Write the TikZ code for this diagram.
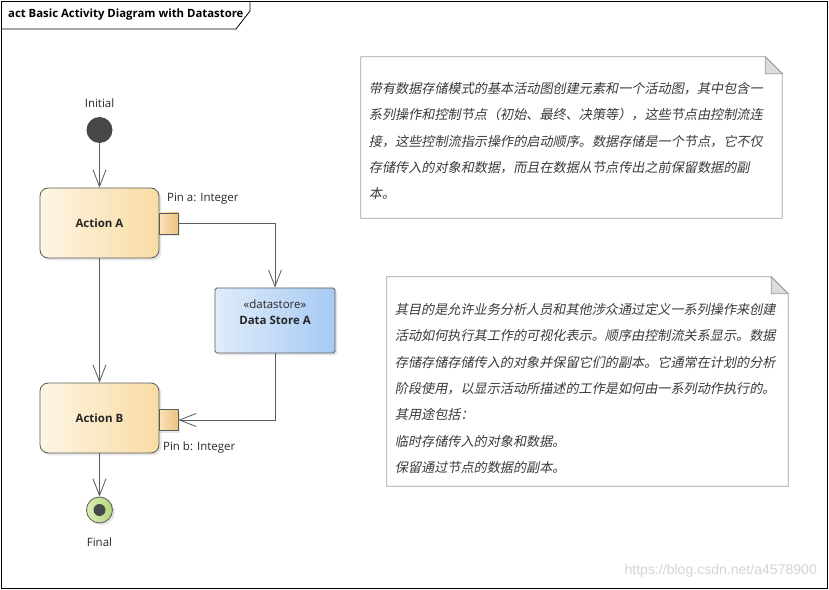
\documentclass[tikz,border=0pt]{standalone}
\usepackage{fontspec}
\setmainfont{Open Sans}
\newfontfamily\cjkfont[FakeSlant=0.2]{Noto Sans CJK SC}
\newfontfamily\wmfont{Liberation Sans}
\usetikzlibrary{arrows.meta,shadows,calc}
\definecolor{edgegray}{HTML}{5C5C5C}
\definecolor{actleft}{HTML}{FEF5E4}
\definecolor{actright}{HTML}{F8DCA4}
\definecolor{pinleft}{HTML}{F9E3BE}
\definecolor{pinright}{HTML}{EFC27E}
\definecolor{dsleft}{HTML}{DFECFA}
\definecolor{dsright}{HTML}{A7CAF3}
\definecolor{finleft}{HTML}{DCEDB6}
\definecolor{finright}{HTML}{B3D47A}
\definecolor{dotgray}{HTML}{474747}
\definecolor{notetext}{HTML}{3A3A3A}
\definecolor{noteborder}{HTML}{A0A0A0}
\definecolor{foldgray}{HTML}{DCDCDC}
\definecolor{wmgray}{HTML}{D4D4D4}

\begin{document}
\begin{tikzpicture}[x=0.03cm, y=-0.03cm, font=\fontsize{9.8}{11}\selectfont, text=black!85,
    flow/.style={draw=edgegray, line width=0.7pt, -{Straight Barb[length=5mm, width=3.9mm]}},
    shade/.style={drop shadow={shadow xshift=2pt, shadow yshift=-2pt, opacity=0.2}},
    action/.style={shade, draw=edgegray, line width=0.7pt, rounded corners=7pt, left color=actleft, right color=actright, minimum width=3.57cm, minimum height=2.1cm, font=\fontsize{9.8}{11}\selectfont\bfseries},
    pin/.style={shade, draw=edgegray, line width=0.7pt, left color=pinleft, right color=pinright, minimum width=0.57cm, minimum height=0.63cm, inner sep=0pt},
    datastore/.style={shade, draw=edgegray, line width=0.7pt, rounded corners=1.5pt, left color=dsleft, right color=dsright, minimum width=3.6cm, minimum height=1.95cm, align=center},
    notebox/.style={fill=white, inner sep=0pt},
    notetext/.style={inner xsep=0.24cm, inner ysep=0pt, align=left, text=notetext, font=\cjkfont\fontsize{11.2}{22.6}\selectfont},
    noteedge/.style={draw=noteborder, line width=0.7pt}]
    \useasboundingbox (0,0) rectangle (829,590);
    \draw[line width=0.8pt] (1,1) rectangle (827,588);
    \draw[line width=0.7pt] (1,29) -- (236,29) -- (250,11) -- (250,1);
    \node[anchor=west, font=\fontsize{9.7}{11}\selectfont\bfseries, text=black] (title) at (4,15) {act Basic Activity Diagram with Datastore};

    \node[circle, fill=dotgray, minimum size=0.78cm] (init) at (99.5,130) {};
    \node (initLbl) at (99.5,103) {Initial};
    \node[action] (actA) at (99.5,223) {Action A};
    \node[pin] (pinA) at (168.5,223.5) {};
    \node[anchor=west] (pinALbl) at (163,199) {Pin a: Integer};
    \node[datastore] (ds) at (275,320.5) {«datastore»\\[3pt]\textbf{Data Store A}\\[3pt]~};
    \node[action] (actB) at (99.5,418) {Action B};
    \node[pin] (pinB) at (168.5,420) {};
    \node[anchor=west] (pinBLbl) at (159,448) {Pin b: Integer};
    \node[circle, draw=edgegray, line width=0.7pt, left color=finleft, right color=finright, minimum size=0.78cm, shade] (final) at (99.5,510) {};
    \node[circle, fill=dotgray, minimum size=0.36cm, inner sep=0pt] (finalDot) at (final) {};
    \node (finalLbl) at (99.5,542) {Final};

    \draw[flow] (init) -- (actA);
    \draw[flow] (actA) -- (actB);
    \draw[flow] (actB) -- (final);
    \draw[flow] (pinA.east) -| (ds.north);
    \draw[flow] (ds.south) |- (pinB.east);

    \node[notebox, minimum width=12.63cm, minimum height=4.83cm] (noteA) at (571.5,137.5) {};
    \draw[noteedge] (noteA.south west) -- (noteA.north west) -- ($(noteA.north east)+(-17,0)$) -- ($(noteA.north east)+(0,17)$) -- (noteA.south east) -- cycle;
    \filldraw[noteedge, fill=foldgray] ($(noteA.north east)+(-17,0)$) -- ($(noteA.north east)+(0,17)$) -- ($(noteA.north east)+(-17,17)$) -- cycle;
    \node[notetext, text width=12.15cm] (noteAText) at ($(noteA.center)+(0,3.5)$) {带有数据存储模式的基本活动图创建元素和一个活动图，其中包含一\\系列操作和控制节点（初始、最终、决策等），这些节点由控制流连\\接，这些控制流指示操作的启动顺序。数据存储是一个节点，它不仅\\存储传入的对象和数据，而且在数据从节点传出之前保留数据的副\\本。};

    \node[notebox, minimum width=12.03cm, minimum height=6.27cm] (noteB) at (587.5,381.5) {};
    \draw[noteedge] (noteB.south west) -- (noteB.north west) -- ($(noteB.north east)+(-17,0)$) -- ($(noteB.north east)+(0,17)$) -- (noteB.south east) -- cycle;
    \filldraw[noteedge, fill=foldgray] ($(noteB.north east)+(-17,0)$) -- ($(noteB.north east)+(0,17)$) -- ($(noteB.north east)+(-17,17)$) -- cycle;
    \node[notetext, text width=11.55cm] (noteBText) at ($(noteB.center)+(0,7)$) {其目的是允许业务分析人员和其他涉众通过定义一系列操作来创建\\活动如何执行其工作的可视化表示。顺序由控制流关系显示。数据\\存储存储存储传入的对象并保留它们的副本。它通常在计划的分析\\阶段使用，以显示活动所描述的工作是如何由一系列动作执行的。\\其用途包括：\\临时存储传入的对象和数据。\\保留通过节点的数据的副本。};

    \node[anchor=east, font=\wmfont\fontsize{12}{14}\selectfont, text=wmgray] (wm) at (821,571) {https://blog.csdn.net/a4578900};
\end{tikzpicture}
\end{document}
